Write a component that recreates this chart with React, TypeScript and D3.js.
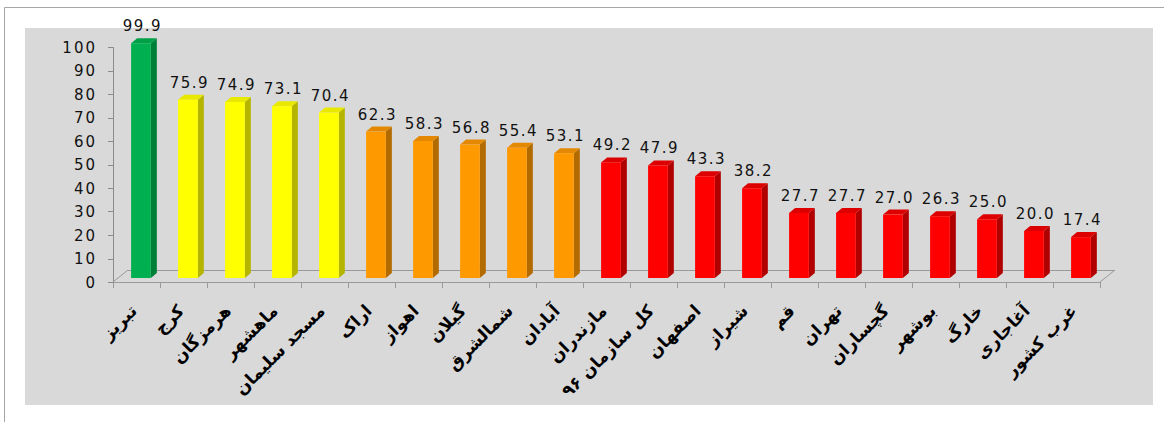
import React from "react";
import * as d3 from "d3";

const categories = [
  "تبریز", "کرج", "هرمزگان", "ماهشهر", "مسجد سلیمان", "اراک", "اهواز", "گیلان",
  "شمالشرق", "آبادان", "مازندران", "کل سازمان ۹۶", "اصفهان", "شیراز", "قم", "تهران",
  "گچساران", "بوشهر", "خارگ", "آغاجاری", "غرب کشور",
];
const values = [99.9, 75.9, 74.9, 73.1, 70.4, 62.3, 58.3, 56.8, 55.4, 53.1, 49.2, 47.9, 43.3, 38.2, 27.7, 27.7, 27.0, 26.3, 25.0, 20.0, 17.4];
const groups = ["g", "y", "y", "y", "y", "o", "o", "o", "o", "o", "r", "r", "r", "r", "r", "r", "r", "r", "r", "r", "r"];
const yTicks = [0, 10, 20, 30, 40, 50, 60, 70, 80, 90, 100];

const palette: Record<string, { front: string; side: string; top: string }> = {
  g: { front: "#00b050", side: "#007f38", top: "#00a046" },
  y: { front: "#ffff00", side: "#b5b500", top: "#e8e800" },
  o: { front: "#ff9900", side: "#b36b00", top: "#e38800" },
  r: { front: "#ff0000", side: "#b00000", top: "#dd0000" },
};

const W = 1164;
const H = 422;

export default function App() {
  const x = d3.scaleBand<string>().domain(categories).range([113, 1100]).paddingInner(0).paddingOuter(0);
  const y = d3.scaleLinear().domain([0, 100]).range([282, 47]);
  const bw = x.bandwidth();
  const lift = 4;
  const ddx = 6, ddy = -5;
  const fdx = 15, fdy = -12;
  const x0 = x.range()[0];
  const x1 = x.range()[1];
  const yb = y(0);
  const txtFont = "'DejaVu Sans', Verdana, sans-serif";
  const labelY = 312;
  const pathLen = 160;
  const k = pathLen / Math.SQRT2;

  return (
    <div style={{ position: "fixed", left: 0, top: 0, width: W, height: H, background: "#fff", overflow: "hidden" }}>
      <svg width={W} height={H} style={{ display: "block" }}>
        <defs>
          {categories.map((c, i) => {
            const ax = (x(c) as number) + bw / 2 + 1.5;
            return <path key={"lp" + i} id={"lp" + i} d={`M ${ax - k} ${labelY + k} L ${ax} ${labelY}`} />;
          })}
        </defs>
        <line x1={4.5} y1={7.5} x2={W} y2={7.5} stroke="#a6a6a6" strokeWidth={1} />
        <line x1={4.5} y1={7.5} x2={4.5} y2={H} stroke="#a6a6a6" strokeWidth={1} />
        <rect x={25} y={28} width={1128} height={377} fill="#d9d9d9" />

        <g stroke="#9a9a9a" strokeWidth={1} fill="none">
          <line x1={x0} y1={yb + 0.5} x2={x1} y2={yb + 0.5} />
          <line x1={x0 + fdx} y1={yb + fdy + 0.5} x2={x1 + fdx} y2={yb + fdy + 0.5} />
          <line x1={x0} y1={yb} x2={x0 + fdx} y2={yb + fdy} />
          <line x1={x1} y1={yb} x2={x1 + fdx} y2={yb + fdy} />
          {categories.map((c) => (
            <line key={"xt" + c} x1={(x(c) as number) + 0.5} y1={yb} x2={(x(c) as number) + 0.5} y2={yb + 6} />
          ))}
          <line x1={x1 + 0.5} y1={yb} x2={x1 + 0.5} y2={yb + 6} />
        </g>

        <g stroke="#8c8c8c" strokeWidth={1}>
          <line x1={x0 + 0.5} y1={y(100)} x2={x0 + 0.5} y2={yb} />
          {yTicks.map((t) => (
            <line key={"yt" + t} x1={x0 - 5} y1={Math.round(y(t)) + 0.5} x2={x0} y2={Math.round(y(t)) + 0.5} />
          ))}
        </g>
        {yTicks.map((t) => (
          <text
            key={"yl" + t}
            x={97}
            y={y(t) + 5.5}
            textAnchor="end"
            fontFamily={txtFont}
            fontSize={15}
            letterSpacing={2}
            fill="#111"
          >
            {t}
          </text>
        ))}

        {categories.map((c, i) => {
          const v = values[i];
          const col = palette[groups[i]];
          const left = (x(c) as number) + bw * 0.385;
          const w = bw * 0.42;
          const top = y(v) - lift;
          const bottom = yb - lift;
          const right = left + w;
          const sidePts = `${right},${top} ${right + ddx},${top + ddy} ${right + ddx},${bottom + ddy} ${right},${bottom}`;
          const topPts = `${left},${top} ${left + ddx},${top + ddy} ${right + ddx},${top + ddy} ${right},${top}`;
          return (
            <g key={"b" + c}>
              <polygon points={sidePts} fill={col.side} />
              <polygon points={topPts} fill={col.top} />
              <rect x={left} y={top} width={w} height={bottom - top} fill={col.front} />
              <text
                x={left + w / 2 + 1.5}
                y={top - 12}
                textAnchor="middle"
                fontFamily={txtFont}
                fontSize={15}
                letterSpacing={1.5}
                fill="#111"
              >
                {v.toFixed(1)}
              </text>
            </g>
          );
        })}

        {categories.map((c, i) => (
          <text key={"cl" + c} fontFamily="DejaVu Sans" fontWeight="bold" fontSize={17} fill="#000" textAnchor="end">
            <textPath href={"#lp" + i} startOffset="100%">
              {c}
            </textPath>
          </text>
        ))}
      </svg>
    </div>
  );
}
